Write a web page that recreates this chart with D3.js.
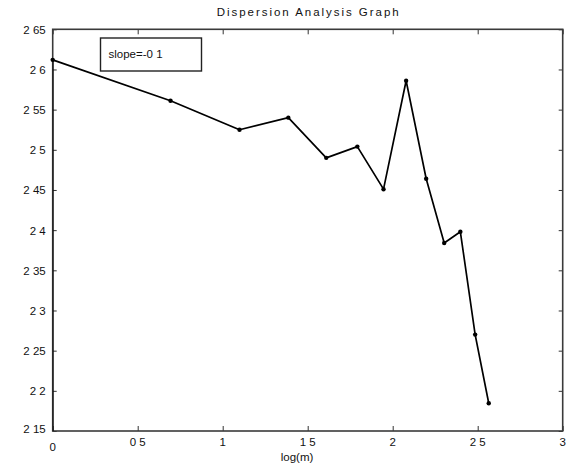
<!DOCTYPE html>
<html>
<head>
<meta charset="utf-8">
<script src="https://cdn.jsdelivr.net/npm/d3@7"></script>
<style>
  body { margin: 0; background: #fff; }
  text { font-family: "Liberation Sans", Arial, sans-serif; fill: #111; }
</style>
</head>
<body>
<svg width="573" height="473"></svg>
<script>

// log(m) vs log(SD)
var logM  = [0, 0, 0.693, 1.099, 1.386, 1.609, 1.792, 1.946, 2.079, 2.197, 2.303, 2.398, 2.485, 2.565];
var logSD = [2.15, 2.612, 2.561, 2.525, 2.540, 2.490, 2.504, 2.451, 2.586, 2.464, 2.384, 2.398, 2.270, 2.1845];
var xTicks = [0, 0.5, 1, 1.5, 2, 2.5, 3];
var yTicks = [2.15, 2.2, 2.25, 2.3, 2.35, 2.4, 2.45, 2.5, 2.55, 2.6, 2.65];
var slopeLabel = "slope=-0 1";

var svg = d3.select("svg"),
    margin = {top: 29.3, right: 10.3, bottom: 42, left: 52.7},
    width = +svg.attr("width") - margin.left - margin.right,
    height = +svg.attr("height") - margin.top - margin.bottom,
    g = svg.append("g").attr("transform", "translate(" + margin.left + "," + margin.top + ")");

var x = d3.scaleLinear()
    .domain([0, 3])
    .range([0, width]);

var y = d3.scaleLinear()
    .domain([2.15, 2.65])
    .range([height, 0]);

var fmt = function(d) { return String(d).replace(".", " "); };

// inward ticks on all four sides
g.append("g")
    .attr("class", "axis axis--x")
    .attr("transform", "translate(0," + height + ")")
    .call(d3.axisBottom(x).tickValues(xTicks).tickSize(-5).tickFormat(""));
g.append("g")
    .attr("class", "axis axis--x2")
    .call(d3.axisTop(x).tickValues(xTicks).tickSize(-5).tickFormat(""));
g.append("g")
    .attr("class", "axis axis--y")
    .call(d3.axisLeft(y).tickValues(yTicks).tickSize(-4).tickFormat(""));
g.append("g")
    .attr("class", "axis axis--y2")
    .attr("transform", "translate(" + width + ",0)")
    .call(d3.axisRight(y).tickValues(yTicks).tickSize(-4).tickFormat(""));

g.selectAll(".axis .domain").remove();
g.selectAll(".axis line").attr("stroke", "#333");

g.append("rect")
    .attr("width", width)
    .attr("height", height)
    .attr("fill", "none")
    .attr("stroke", "#3a3a3a")
    .attr("stroke-width", 1.6);

// tick labels (corner labels nudged apart like the original)
g.selectAll(".xlab")
    .data(xTicks)
  .enter().append("text")
    .attr("class", "xlab")
    .attr("x", function(d) { return x(d); })
    .attr("y", function(d) { return d === 0 ? height + 20 : height + 15.5; })
    .attr("text-anchor", "middle")
    .style("font-size", "11.5px")
    .text(fmt);

g.selectAll(".ylab")
    .data(yTicks)
  .enter().append("text")
    .attr("class", "ylab")
    .attr("x", -7)
    .attr("y", function(d) { return d === 2.15 ? y(d) + 2 : y(d) + 4.5; })
    .attr("text-anchor", "end")
    .style("font-size", "11.5px")
    .text(fmt);

svg.append("text")
    .attr("x", margin.left + width / 2)
    .attr("y", 16)
    .attr("text-anchor", "middle")
    .attr("textLength", 182)
    .attr("lengthAdjust", "spacing")
    .style("font-size", "11.5px")
    .text("Dispersion Analysis Graph");

svg.append("text")
    .attr("x", 297)
    .attr("y", 461)
    .attr("text-anchor", "middle")
    .style("font-size", "11.5px")
    .text("log(m)");

// data line
g.append("defs").append("clipPath")
    .attr("id", "clip")
  .append("rect")
    .attr("width", width)
    .attr("height", height);

var pts = logM.map(function(d, i) { return [d, logSD[i]]; });

var line = d3.line()
    .x(function(d) { return x(d[0]); })
    .y(function(d) { return y(d[1]); });

g.append("path")
    .datum(pts)
    .attr("clip-path", "url(#clip)")
    .attr("fill", "none")
    .attr("stroke", "#000")
    .attr("stroke-width", 1.7)
    .attr("stroke-linejoin", "round")
    .attr("d", line);

g.selectAll(".dot")
    .data(pts.slice(1))
  .enter().append("circle")
    .attr("class", "dot")
    .attr("cx", function(d) { return x(d[0]); })
    .attr("cy", function(d) { return y(d[1]); })
    .attr("r", 2.2)
    .attr("fill", "#000");

// slope box
svg.append("rect")
    .attr("x", 100.5)
    .attr("y", 38)
    .attr("width", 101)
    .attr("height", 33)
    .attr("fill", "#fff")
    .attr("stroke", "#222")
    .attr("stroke-width", 1.4);

svg.append("text")
    .attr("x", 108.5)
    .attr("y", 58)
    .style("font-size", "11.5px")
    .text(slopeLabel);

</script>
</body>
</html>
